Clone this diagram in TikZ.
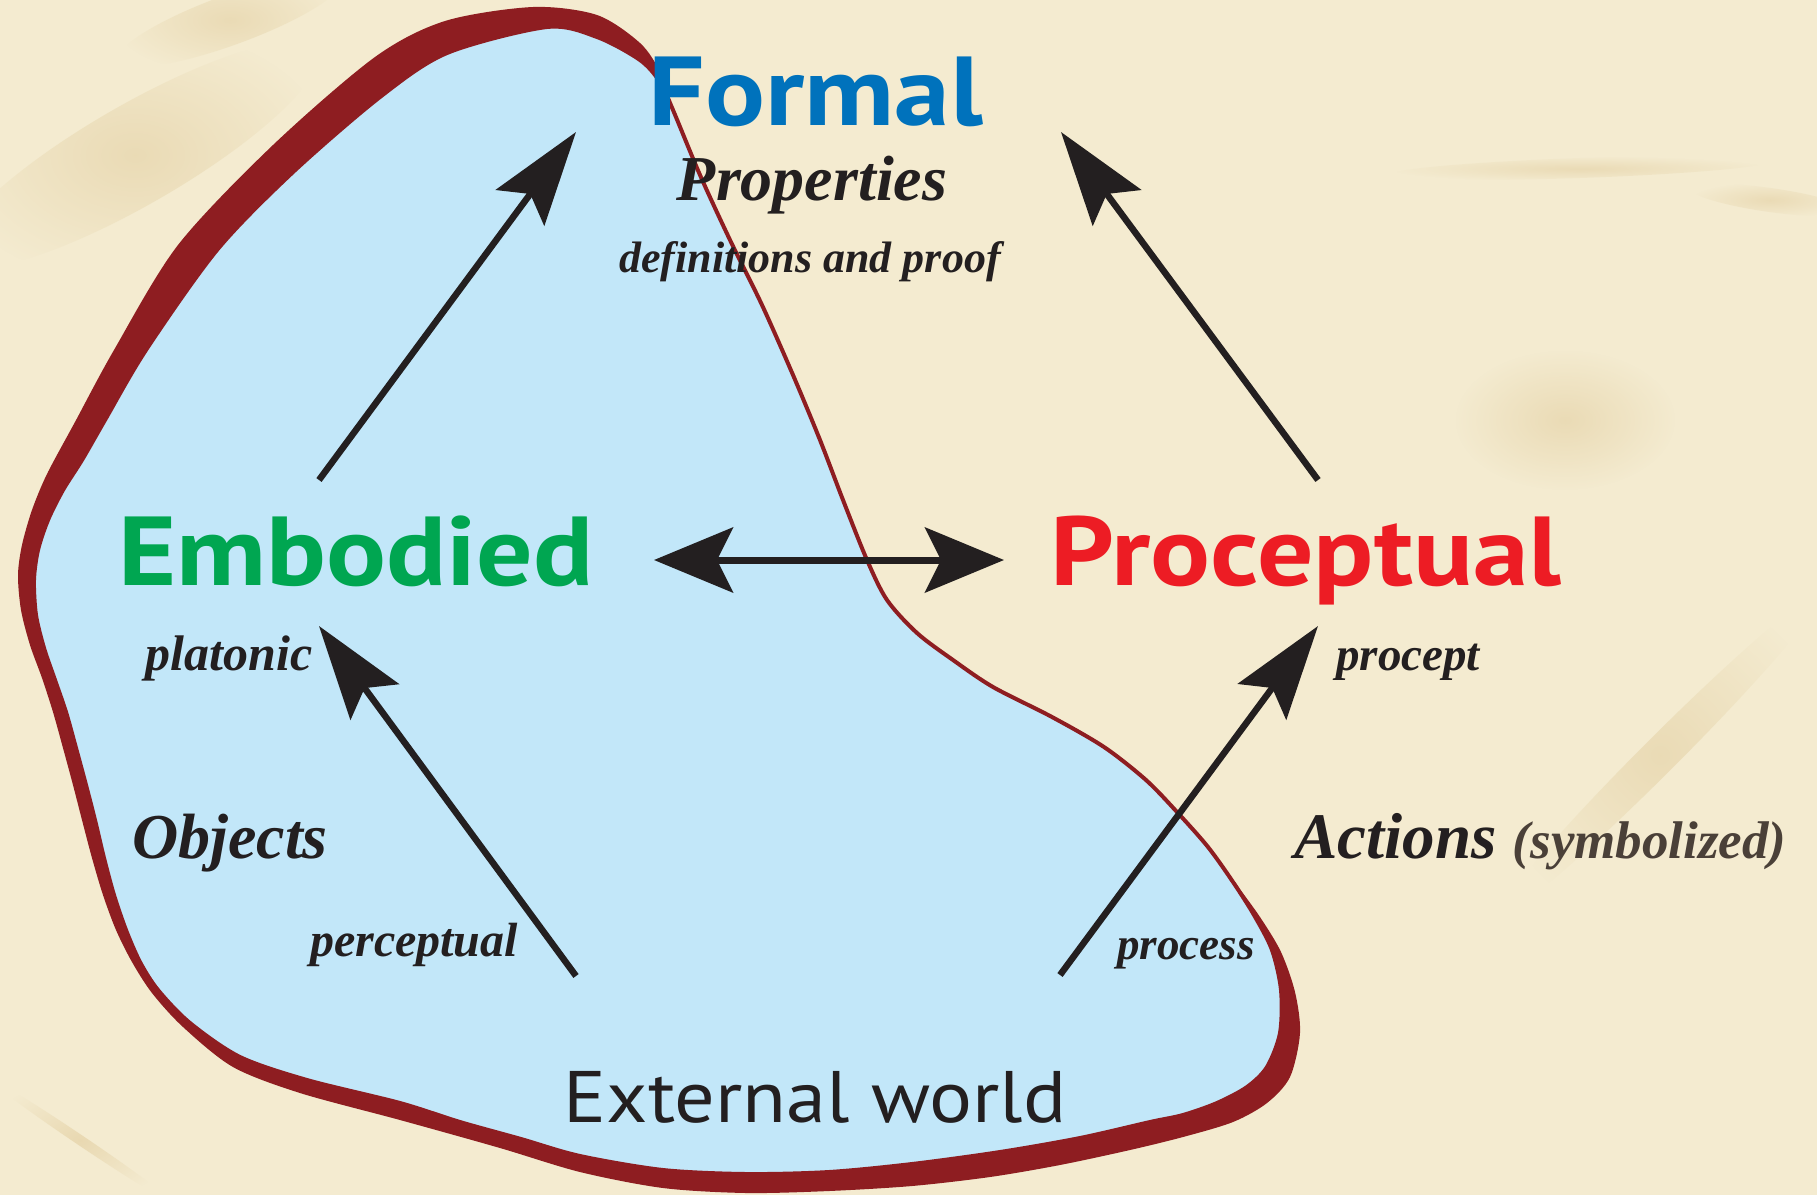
\documentclass[tikz,border=0pt]{standalone}
\usepackage{fontspec}
\newfontfamily\headfont{PT Sans}[FakeStretch=1.14]
\newfontfamily\worldfont{PT Sans}[FakeStretch=1.1]
\newfontfamily\garfont{Liberation Serif}
\usetikzlibrary{arrows.meta,fadings}

\definecolor{paper}{RGB}{244,235,208}
\definecolor{stain}{RGB}{212,182,120}
\definecolor{crease}{RGB}{170,130,80}
\definecolor{rim}{RGB}{142,29,33}
\definecolor{lake}{RGB}{194,231,249}
\definecolor{formalblue}{RGB}{0,114,188}
\definecolor{embgreen}{RGB}{0,166,81}
\definecolor{procred}{RGB}{237,28,36}
\definecolor{ink}{RGB}{35,31,32}
\definecolor{softink}{RGB}{74,64,56}

\tikzfading[name=softspot, inner color=transparent!0, outer color=transparent!100]

\begin{document}
\begin{tikzpicture}[x=1pt,y=-1pt,
  heading/.style={font=\headfont\bfseries\fontsize{98}{98}\selectfont, inner sep=0pt, anchor=base},
  note/.style={font=\garfont\bfseries\itshape, text=ink, inner sep=0pt, anchor=base},
  link/.style={draw=ink, line width=6.5pt, -{Stealth[length=94pt,width=60pt,inset=17pt]}},
  swap/.style={draw=ink, line width=7pt,
    {Stealth[length=79pt,width=65pt,inset=16pt]}-{Stealth[length=79pt,width=65pt,inset=16pt]}},
  spot/.style={fill=stain, path fading=softspot},
]
% paper
\useasboundingbox (0,0) rectangle (1817,1195);
\fill[paper] (0,0) rectangle (1817,1195);

% faint water stains on the paper
\begin{scope}[opacity=0.3]
  \fill[spot, rotate around={30:(135,155)}] (135,155) ellipse (210 and 50);
  \fill[spot, rotate around={20:(230,20)}] (230,20) ellipse (120 and 25);
  \fill[spot, rotate around={2:(1580,168)}] (1580,168) ellipse (190 and 10);
  \fill[spot, rotate around={-8:(1770,200)}] (1770,200) ellipse (80 and 12);
  \fill[spot, rotate around={45:(1660,755)}] (1660,755) ellipse (230 and 18);
  \fill[spot] (1565,420) ellipse (110 and 70);
\end{scope}
\begin{scope}[opacity=0.35]
  \fill[spot, rotate around={-34:(80,1140)}] (80,1140) ellipse (110 and 5);
\end{scope}

% the external world: a rimmed blob
\fill[rim] plot[smooth cycle] coordinates {
  (533,7) (597,15) (640,43) (660,72) (673,110) (700,175) (730,240) (762,305)
  (793,375) (820,440) (843,500) (867,560) (887,600) (917,633) (953,660)
  (993,687) (1052,717) (1104,747) (1146,780) (1177,812) (1208,847) (1236,884)
  (1260,917) (1281,952) (1295,992) (1300,1033) (1290,1077) (1267,1103)
  (1233,1122) (1183,1137) (1130,1150) (1060,1165) (990,1177) (912,1186)
  (829,1191) (746,1193) (663,1188) (580,1172) (500,1148) (400,1120) (300,1093)
  (233,1067) (183,1027) (152,993) (132,962) (116,930) (103,895) (92,858)
  (82,820) (73,785) (63,748) (53,712) (42,678) (30,645) (21,610) (18,575)
  (22,545) (32,510) (47,474) (75,422) (114,350) (178,245) (273,145)
  (375,57) (445,21)};
\filldraw[fill=lake, draw=rim, line width=4pt] plot[smooth cycle] coordinates {
  (547,27) (597,37) (640,60) (660,82) (673,110) (700,175) (730,240) (762,305)
  (793,375) (820,440) (843,500) (867,560) (887,600) (917,633) (953,660)
  (993,687) (1052,717) (1104,747) (1146,780) (1177,812) (1208,847) (1233,882)
  (1254,915) (1272,950) (1281,990) (1280,1033) (1267,1067) (1247,1087)
  (1217,1103) (1183,1115) (1150,1122) (1080,1138) (1000,1152) (912,1164)
  (829,1172) (746,1174) (663,1170) (580,1156) (521,1139) (460,1122) (400,1103)
  (307,1080) (240,1057) (190,1023) (158,990) (140,962) (126,930) (114,895)
  (104,858) (95,820) (86,785) (76,748) (66,712) (55,680) (44,648) (36,615)
  (34,580) (38,550) (48,520) (63,490) (82,460) (105,420) (146,350) (217,250)
  (292,173) (380,97) (447,53)};

% the three worlds
\node[heading, text=formalblue] (formal) at (816,125) {Formal};
\node[heading, text=embgreen] (embodied) at (356,585) {Embodied};
\node[heading, text=procred] (proceptual) at (1306,585) {Proceptual};

% labels
\node[note, font=\garfont\bfseries\itshape\fontsize{64}{64}\selectfont] (properties) at (812,200) {Properties};
\node[note, font=\garfont\bfseries\itshape\fontsize{44}{44}\selectfont] (defs) at (810,272) {definitions and proof};
\node[note, font=\garfont\bfseries\itshape\fontsize{50}{50}\selectfont] (platonic) at (229,670) {platonic};
\node[note, font=\garfont\bfseries\itshape\fontsize{47}{47}\selectfont] (procept) at (1408,670) {procept};
\node[note, font=\garfont\bfseries\itshape\fontsize{64}{64}\selectfont] (objects) at (230,858) {Objects};
\node[note, anchor=base west, font=\garfont\bfseries\itshape\fontsize{65}{65}\selectfont] (actions) at (1294,858)
  {Actions {\color{softink}\fontsize{53}{53}\selectfont(symbolized)}};
\node[note, font=\garfont\bfseries\itshape\fontsize{48}{48}\selectfont] (perceptual) at (414,956) {perceptual};
\node[note, font=\garfont\bfseries\itshape\fontsize{45}{45}\selectfont] (process) at (1186,959) {process};
\node[inner sep=0pt, anchor=base, text=ink, font=\worldfont\fontsize{73}{73}\selectfont] (world) at (815,1122) {External world};

% arrow end points
\coordinate (embUp) at (319,480);
\coordinate (formalL) at (576,132);
\coordinate (procUp) at (1318,480);
\coordinate (formalR) at (1061,132);
\coordinate (midL) at (654,560);
\coordinate (midR) at (1004,560);
\coordinate (percFoot) at (576,976);
\coordinate (embDown) at (319,626);
\coordinate (procFoot) at (1060,975);
\coordinate (procDown) at (1318,626);

% connectors
\draw[link] (embUp) -- (formalL);
\draw[link] (procUp) -- (formalR);
\draw[swap] (midL) -- (midR);
\draw[link] (percFoot) -- (embDown);
\draw[link] (procFoot) -- (procDown);
\end{tikzpicture}
\end{document}
